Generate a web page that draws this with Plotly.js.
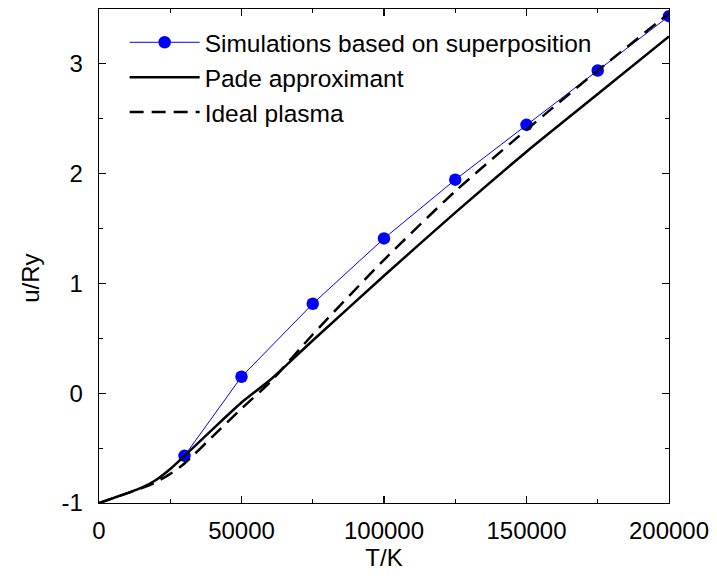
<!DOCTYPE html>
<html>
<head>
<meta charset="utf-8">
<script src="https://cdn.plot.ly/plotly-3.0.1.min.js"></script>
<style>html,body{margin:0;padding:0;background:#fff;}#chart{width:717px;height:576px;}</style>
</head>
<body>
<div id="chart"></div>
<script>
// Simulations based on superposition
const simT = [30000, 50000, 75000, 100000, 125000, 150000, 175000, 200000];
const simU = [-0.57, 0.15, 0.815, 1.41, 1.945, 2.445, 2.94, 3.435];

// Pade approximant
const padeT = [0, 5000, 10000, 15000, 20000, 25000, 30000, 40000, 50000, 60000, 75000, 100000, 125000, 150000, 175000, 200000];
const padeU = [-1, -0.955, -0.91, -0.86, -0.79, -0.69, -0.57, -0.325, -0.085, 0.12, 0.48, 1.07, 1.645, 2.20, 2.725, 3.25];

// Ideal plasma
const idealT = [0, 5000, 10000, 15000, 20000, 25000, 30000, 40000, 50000, 60000, 75000, 100000, 125000, 150000, 175000, 200000];
const idealU = [-1, -0.955, -0.91, -0.865, -0.81, -0.735, -0.64, -0.39, -0.14, 0.10, 0.535, 1.215, 1.84, 2.40, 2.94, 3.46];

const xTicks = [0, 50000, 100000, 150000, 200000];
const yTicks = [-1, 0, 1, 2, 3];

const FONT = 'Liberation Sans, Arial, Helvetica, sans-serif';

const traces = [
  {x: simT, y: simU, type: 'scatter', mode: 'lines+markers', name: 'Simulations based on superposition',
   line: {color: '#0000ff', width: 1}, marker: {color: '#0000ff', size: 12.5, symbol: 'circle'}},
  {x: padeT, y: padeU, type: 'scatter', mode: 'lines', name: 'Pade approximant',
   line: {color: '#000000', width: 2.5, shape: 'spline', smoothing: 0.6}},
  {x: idealT, y: idealU, type: 'scatter', mode: 'lines', name: 'Ideal plasma',
   line: {color: '#000000', width: 2.5, dash: '14px,8px', shape: 'spline', smoothing: 0.6}}
];

const axisCommon = {
  showline: true, linecolor: '#000', linewidth: 1.3, mirror: 'ticks',
  ticks: 'inside', ticklen: 7, tickwidth: 1.2, tickcolor: '#000',
  showgrid: false, zeroline: false,
  tickfont: {family: FONT, size: 24, color: '#000'}
};

const layout = {
  width: 717, height: 576,
  margin: {l: 99, r: 48, t: 9, b: 73, pad: 0},
  paper_bgcolor: '#fff', plot_bgcolor: '#fff',
  font: {family: FONT, size: 24, color: '#000'},
  showlegend: true,
  legend: {x: 0.045, y: 0.978, xanchor: 'left', yanchor: 'top', bgcolor: 'rgba(0,0,0,0)',
           font: {family: FONT, size: 24.5, color: '#000'}, itemwidth: 70, tracegroupgap: 0},
  xaxis: Object.assign({}, axisCommon, {
    range: [0, 200000], tickmode: 'array', tickvals: xTicks, ticktext: xTicks.map(String),
    minor: {ticks: 'inside', dtick: 25000, ticklen: 4, tickcolor: '#000', tickwidth: 1.2},
    ticklabelstandoff: 6,
    title: {text: 'T/K', font: {family: FONT, size: 24, color: '#000'}, standoff: 6}
  }),
  yaxis: Object.assign({}, axisCommon, {
    range: [-1, 3.5], tickmode: 'array', tickvals: yTicks, ticktext: yTicks.map(String),
    minor: {ticks: 'inside', dtick: 0.5, ticklen: 4, tickcolor: '#000', tickwidth: 1.2},
    ticklabelstandoff: 10
  }),
  annotations: [
    {text: 'u/Ry', xref: 'paper', yref: 'paper', x: -0.12, y: 0.455, xanchor: 'center', yanchor: 'middle',
     textangle: -90, showarrow: false, font: {family: FONT, size: 24, color: '#000'}}
  ]
};

Plotly.newPlot('chart', traces, layout, {staticPlot: true, displayModeBar: false});
</script>
</body>
</html>
